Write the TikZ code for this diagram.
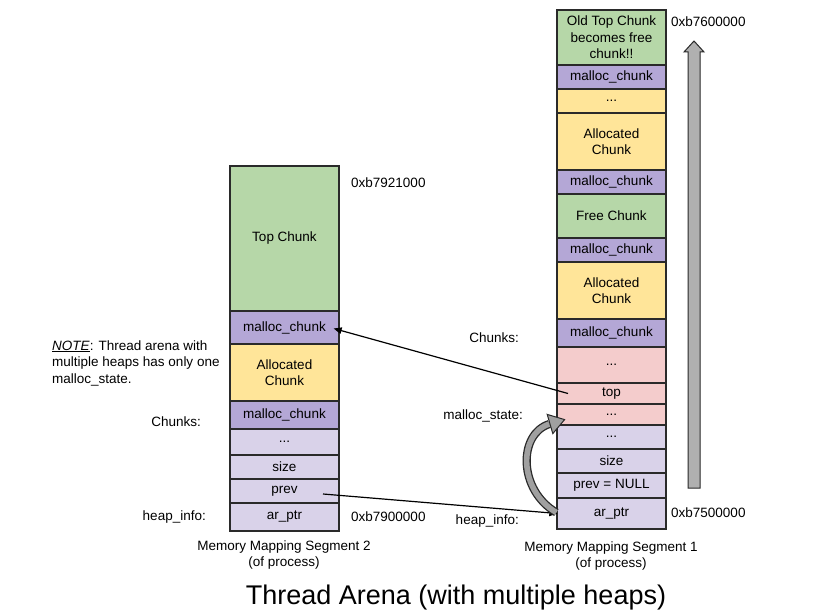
\documentclass[tikz,border=0pt]{standalone}
\usepackage{fontspec}
\setmainfont{Liberation Sans}
\usetikzlibrary{arrows.meta}
\definecolor{cgreen}{HTML}{B6D7A8}
\definecolor{cpurple}{HTML}{B4A7D6}
\definecolor{cyellow}{HTML}{FFE599}
\definecolor{cpink}{HTML}{F4CCCC}
\definecolor{clav}{HTML}{D9D2E9}
\definecolor{cborder}{HTML}{2A2A2A}
\definecolor{cgrayarrow}{HTML}{B0B0B0}
\definecolor{ccurve}{HTML}{A0A0A0}
\newcommand{\cellfont}{\fontsize{13.5}{16.5}\selectfont}
\begin{document}
\begin{tikzpicture}[x=1pt,y=-1pt,
  cell/.style={draw=cborder, line width=1.3pt, minimum width=109pt, inner sep=0pt, align=center, font=\cellfont},
  lab/.style={font=\cellfont, inner sep=0pt, align=center},
  ptr/.style={line width=1.2pt, -{Triangle[length=8pt,width=6.5pt]}}]
\useasboundingbox (0,0) rectangle (820,615);
\fill[white] (0,0) rectangle (820,615);

% ---------- right column (Memory Mapping Segment 1)
\node[cell, fill=cgreen,  minimum height=55pt] (r1)  at (611.5,37.5)  {Old Top Chunk\\becomes free\\chunk!!};
\node[cell, fill=cpurple, minimum height=24pt] (r2)  at (611.5,77)    {malloc\_chunk};
\node[cell, fill=cyellow, minimum height=24pt] (r3)  at (611.5,101)   {...};
\node[cell, fill=cyellow, minimum height=57pt] (r4)  at (611.5,141.5) {Allocated\\Chunk};
\node[cell, fill=cpurple, minimum height=24pt] (r5)  at (611.5,182)   {malloc\_chunk};
\node[cell, fill=cgreen,  minimum height=44pt] (r6)  at (611.5,216)   {Free Chunk};
\node[cell, fill=cpurple, minimum height=24pt] (r7)  at (611.5,250)   {malloc\_chunk};
\node[cell, fill=cyellow, minimum height=57pt] (r8)  at (611.5,290.5) {Allocated\\Chunk};
\node[cell, fill=cpurple, minimum height=28pt] (r9)  at (611.5,333)   {malloc\_chunk};
\node[cell, fill=cpink,   minimum height=36pt] (r10) at (611.5,365)   {...};
\node[cell, fill=cpink,   minimum height=21pt] (r11) at (611.5,393.5) {top};
\node[cell, fill=cpink,   minimum height=21pt] (r12) at (611.5,414.5) {...};
\node[cell, fill=clav,    minimum height=24pt] (r13) at (611.5,437)   {...};
\node[cell, fill=clav,    minimum height=24pt] (r14) at (611.5,461)   {size};
\node[cell, fill=clav,    minimum height=25pt] (r15) at (611.5,485.5) {prev = NULL};
\node[cell, fill=clav,    minimum height=31pt] (r16) at (611.5,513.5) {ar\_ptr};

% ---------- left column (Memory Mapping Segment 2)
\node[cell, fill=cgreen,  minimum height=145pt] (l1) at (284.5,238.5) {Top Chunk};
\node[cell, fill=cpurple, minimum height=33pt]  (l2) at (284.5,327.5) {malloc\_chunk};
\node[cell, fill=cyellow, minimum height=57pt]  (l3) at (284.5,372.5) {Allocated\\Chunk};
\node[cell, fill=cpurple, minimum height=28pt]  (l4) at (284.5,415)   {malloc\_chunk};
\node[cell, fill=clav,    minimum height=26pt]  (l5) at (284.5,442)   {...};
\node[cell, fill=clav,    minimum height=24pt]  (l6) at (284.5,467)   {size};
\node[cell, fill=clav,    minimum height=24pt]  (l7) at (284.5,491)   {prev};
\node[cell, fill=clav,    minimum height=28pt]  (l8) at (284.5,517)   {ar\_ptr};

% ---------- labels
\node[lab, anchor=west] (a1) at (671,22)  {0xb7600000};
\node[lab, anchor=west] (a2) at (671,513) {0xb7500000};
\node[lab, anchor=west] (a3) at (351,183) {0xb7921000};
\node[lab, anchor=west] (a4) at (351,517) {0xb7900000};
\node[lab, anchor=east] (c1) at (519,338) {Chunks:};
\node[lab, anchor=east] (c2) at (523,416) {malloc\_state:};
\node[lab, anchor=east] (c3) at (519,521) {heap\_info:};
\node[lab, anchor=east] (c4) at (201,422) {Chunks:};
\node[lab, anchor=east] (c5) at (206,517) {heap\_info:};
\node[lab, anchor=west, align=left] (note) at (52,363)
  {\underline{\textit{NOTE}}: Thread arena with\\multiple heaps has only one\\malloc\_state.};
\node[lab] (s2) at (284,555) {Memory Mapping Segment 2\\(of process)};
\node[lab] (s1) at (611,556) {Memory Mapping Segment 1\\(of process)};
\node[lab, font=\fontsize{27}{30}\selectfont] (title) at (456,598) {Thread Arena (with multiple heaps)};

% ---------- growth arrow
\draw[line width=1pt, draw=cborder, fill=cgrayarrow]
  (688,488) -- (688,52) -- (684,52) -- (694,41) -- (704,52) -- (700,52) -- (700,488) -- cycle;

% ---------- pointers
\draw[ptr] ([xshift=-43.5pt]r11.center) -- ([xshift=-6pt,yshift=-1pt]l2.east);
\draw[ptr] ([xshift=38.5pt,yshift=-3pt]l7.center) -- ([xshift=1pt]r16.west);

% ---------- curved block arrow heap_info -> malloc_state
\coordinate (cs) at ([xshift=0pt,yshift=1pt]r16.west);
\coordinate (ce) at ([xshift=-7pt,yshift=-9.5pt]r12.west);
\draw[line width=8.2pt, cborder] (cs) .. controls (518,490) and (518,434) .. (ce);
\draw[line width=5.6pt, ccurve] (cs) .. controls (518,490) and (518,434) .. (ce);
\draw[line width=1pt, draw=cborder, fill=ccurve]
  (547.2,414.4) -- (564.6,419.6) -- (552.8,433.6) -- cycle;
\end{tikzpicture}
\end{document}
